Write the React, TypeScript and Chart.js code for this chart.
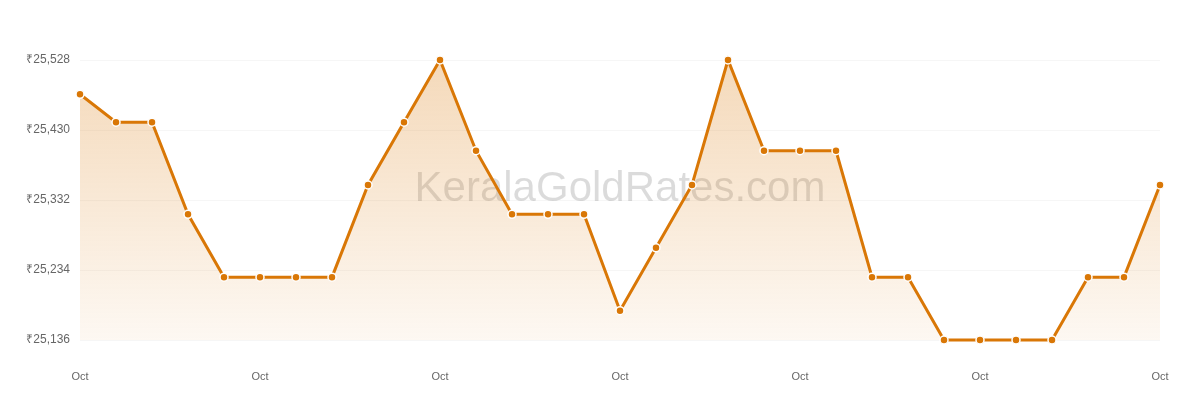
import { useEffect, useRef } from 'react';
import Chart from 'chart.js/auto';

// Oct 1 .. Oct 31 gold rate
const days = Array.from({ length: 31 }, () => 'Oct');
const rates = [
    25480, 25441, 25441, 25312, 25224, 25224, 25224, 25224, 25353, 25441,
    25528, 25401, 25312, 25312, 25312, 25177, 25265, 25353, 25528, 25401,
    25401, 25401, 25224, 25224, 25136, 25136, 25136, 25136, 25224, 25224,
    25353,
];
const yTicks = [25136, 25234, 25332, 25430, 25528];
const labelEvery = 5;

const FONT = '"Liberation Sans", Arial, Helvetica, sans-serif';

const watermark = {
    id: 'watermark',
    beforeDatasetsDraw(chart: any) {
        const { ctx, chartArea } = chart;
        ctx.save();
        ctx.font = `42px ${FONT}`;
        ctx.fillStyle = 'rgba(0,0,0,0.14)';
        ctx.textAlign = 'center';
        ctx.textBaseline = 'middle';
        ctx.fillText('KeralaGoldRates.com', (chartArea.left + chartArea.right) / 2, chartArea.top + 129);
        ctx.restore();
    },
};

export default function App() {
    const canvasRef = useRef<HTMLCanvasElement>(null);

    useEffect(() => {
        document.body.style.margin = '0';
        const chart = new Chart(canvasRef.current as HTMLCanvasElement, {
            type: 'line',
            data: {
                labels: days,
                datasets: [
                    {
                        label: 'Rate',
                        data: rates,
                        borderColor: '#d97706',
                        borderWidth: 3,
                        pointBackgroundColor: '#d97706',
                        pointBorderColor: '#ffffff',
                        pointBorderWidth: 1.5,
                        pointRadius: 4,
                        tension: 0,
                        fill: 'start',
                        clip: false as any,
                        backgroundColor: (c: any) => {
                            const area = c.chart.chartArea;
                            if (!area) return 'rgba(217,119,6,0.2)';
                            const g = c.chart.ctx.createLinearGradient(0, area.top, 0, area.bottom);
                            g.addColorStop(0, 'rgba(217,119,6,0.28)');
                            g.addColorStop(1, 'rgba(217,119,6,0.05)');
                            return g;
                        },
                    },
                ],
            },
            options: {
                responsive: true,
                maintainAspectRatio: false,
                animation: false,
                layout: { padding: { top: 60, right: 40, left: 0, bottom: 0 } },
                plugins: {
                    legend: { display: false },
                    tooltip: { enabled: false },
                },
                scales: {
                    x: {
                        offset: false,
                        border: { display: false },
                        grid: { display: false },
                        ticks: {
                            autoSkip: false,
                            maxRotation: 0,
                            padding: 22,
                            color: '#666',
                            font: { family: FONT, size: 11 },
                            callback: (_v: any, i: number) => (i % labelEvery === 0 ? days[i] : null),
                        },
                        afterFit: (s: any) => { s.height = 60; },
                    },
                    y: {
                        min: yTicks[0],
                        max: yTicks[yTicks.length - 1],
                        border: { display: false },
                        grid: { color: 'rgba(0,0,0,0.035)', drawTicks: false },
                        afterBuildTicks: (s: any) => { s.ticks = yTicks.map((v) => ({ value: v })); },
                        ticks: {
                            padding: 10,
                            color: '#666',
                            font: { family: FONT, size: 12 },
                            callback: (v: any) => '₹' + Number(v).toLocaleString('en-US'),
                        },
                        afterFit: (s: any) => { s.width = 80; },
                    },
                },
            },
            plugins: [watermark],
        });
        return () => chart.destroy();
    }, []);

    return (
        <div style={{ width: 1200, height: 400, position: 'relative' }}>
            <canvas ref={canvasRef} />
        </div>
    );
}
